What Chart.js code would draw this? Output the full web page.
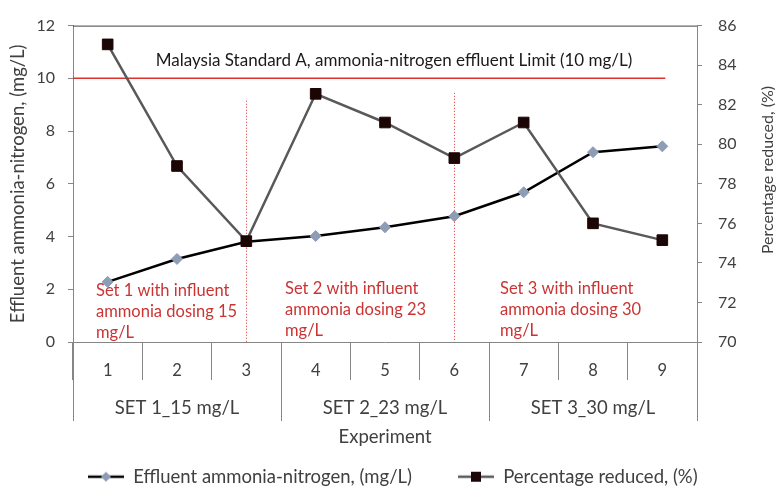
<!DOCTYPE html>
<html>
<head>
<meta charset="utf-8">
<script src="https://cdn.jsdelivr.net/npm/chart.js@4/dist/chart.umd.min.js"></script>
<style>
	html, body { margin: 0; padding: 0; background: #fff; }
</style>
</head>
<body>
<canvas id="chart" width="777" height="493"></canvas>
<script>
const experiments = ['1', '2', '3', '4', '5', '6', '7', '8', '9']
const setLabels = ['SET 1_15 mg/L', 'SET 2_23 mg/L', 'SET 3_30 mg/L']
const setSizes = [3, 3, 3]
const effluent = [2.28, 3.15, 3.8, 4.02, 4.35, 4.77, 5.68, 7.2, 7.42]
const percentReduced = [85.05, 78.9, 75.1, 82.55, 81.1, 79.3, 81.1, 76.0, 75.15]
const effluentLimit = 10
const limitText = 'Malaysia Standard A, ammonia-nitrogen effluent Limit (10 mg/L)'
const setNotes = [
	['Set 1 with influent', 'ammonia dosing 15', 'mg/L'],
	['Set 2 with influent', 'ammonia dosing 23', 'mg/L'],
	['Set 3 with influent', 'ammonia dosing 30', 'mg/L'],
]

const axisGrey = '#868686'
const textGrey = '#404040'
const red = '#e0302c'

Chart.defaults.font.family = 'Lato'

// legend symbol: line with the marker in the middle, right part of the box
function legendIcon(lineColor, marker) {
	const c = document.createElement('canvas')
	c.width = 72
	c.height = 16
	const g = c.getContext('2d')
	g.strokeStyle = lineColor
	g.lineWidth = 2.5
	g.beginPath()
	g.moveTo(36, 8)
	g.lineTo(72, 8)
	g.stroke()
	marker(g, 54, 8)
	return c
}
const icons = [
	legendIcon('#000', (g, x, y) => {
		g.fillStyle = '#8d9db6'
		g.beginPath()
		g.moveTo(x, y - 5); g.lineTo(x + 5, y); g.lineTo(x, y + 5); g.lineTo(x - 5, y)
		g.closePath()
		g.fill()
	}),
	legendIcon('#595959', (g, x, y) => {
		g.fillStyle = '#1c0505'
		g.fillRect(x - 5, y - 5, 10, 10)
	}),
]

const overlays = {
	id: 'overlays',
	afterLayout(chart) {
		const lg = chart.legend
		lg.left = 42
		lg.top += 3
		lg.bottom += 3
	},
	beforeDatasetsDraw(chart) {
		const { ctx, chartArea: a, scales: { x, y } } = chart
		ctx.save()
		// limit line
		const yl = y.getPixelForValue(effluentLimit)
		ctx.strokeStyle = red
		ctx.lineWidth = 1.5
		ctx.beginPath()
		ctx.moveTo(a.left, yl)
		ctx.lineTo(x.getPixelForValue(experiments.length - 1) + 3, yl)
		ctx.stroke()

		ctx.fillStyle = '#1a1a1a'
		ctx.font = '17px Lato'
		ctx.textAlign = 'center'
		ctx.textBaseline = 'middle'
		ctx.fillText(limitText, (a.left + a.right) / 2 + 9, yl - 18)

		// dotted dividers at the end of set 1 and set 2
		const tops = [9.15, 9.45]
		ctx.strokeStyle = red
		ctx.lineWidth = 1
		ctx.setLineDash([1, 2])
		let idx = -1
		setSizes.slice(0, -1).forEach((n, i) => {
			idx += n
			const px = Math.round(x.getPixelForValue(idx)) + 0.5
			ctx.beginPath()
			ctx.moveTo(px, y.getPixelForValue(tops[i]))
			ctx.lineTo(px, a.bottom)
			ctx.stroke()
		})
		ctx.setLineDash([])

		// set notes
		const noteX = [96, 285, 500]
		const noteY = [291, 289, 289]
		ctx.fillStyle = '#cc3333'
		ctx.font = '16.5px Lato'
		ctx.textAlign = 'left'
		setNotes.forEach((lines, i) => {
			lines.forEach((t, j) => ctx.fillText(t, noteX[i], noteY[i] + j * 21))
		})
		ctx.restore()
	},
	afterDraw(chart) {
		const { ctx, chartArea: a, scales: { x } } = chart
		ctx.save()
		// top border of plot
		ctx.strokeStyle = textGrey
		ctx.lineWidth = 1
		ctx.beginPath()
		ctx.moveTo(a.left, a.top + 0.5)
		ctx.lineTo(a.right, a.top + 0.5)
		ctx.stroke()

		// group separators and labels
		const step = x.getPixelForValue(1) - x.getPixelForValue(0)
		const lineBottom = 421
		ctx.strokeStyle = axisGrey
		ctx.fillStyle = textGrey
		ctx.font = '18.5px Lato'
		ctx.textAlign = 'center'
		ctx.textBaseline = 'middle'
		let start = 0
		setSizes.forEach((n, i) => {
			const x0 = x.getPixelForValue(start) - step / 2
			const x1 = x.getPixelForValue(start + n - 1) + step / 2
			ctx.beginPath()
			ctx.moveTo(Math.round(x0) + 0.5, a.bottom)
			ctx.lineTo(Math.round(x0) + 0.5, lineBottom)
			ctx.moveTo(Math.round(x1) + 0.5, a.bottom)
			ctx.lineTo(Math.round(x1) + 0.5, lineBottom)
			ctx.stroke()
			ctx.fillText(setLabels[i], (x0 + x1) / 2, 408)
			start += n
		})

		// right axis title, reads bottom to top
		ctx.font = '16px Lato'
		ctx.translate(768, 170)
		ctx.rotate(-Math.PI / 2)
		ctx.fillText('Percentage reduced, (%)', 0, 0)
		ctx.restore()
	}
}

new Chart(document.getElementById('chart'), {
	type: 'line',
	data: {
		labels: experiments,
		datasets: [
			{
				label: 'Effluent ammonia-nitrogen, (mg/L)',
				data: effluent,
				yAxisID: 'y',
				borderColor: '#000',
				borderWidth: 2.5,
				tension: 0,
				pointStyle: 'rectRot',
				pointRadius: 5.5,
				pointBackgroundColor: '#8d9db6',
				pointBorderColor: '#8d9db6',
				pointBorderWidth: 1,
				order: 2,
			},
			{
				label: 'Percentage reduced, (%)',
				data: percentReduced,
				yAxisID: 'y1',
				borderColor: '#595959',
				borderWidth: 2.5,
				tension: 0,
				pointStyle: 'rect',
				pointRadius: 7.5,
				pointBackgroundColor: '#1c0505',
				pointBorderColor: '#1c0505',
				pointBorderWidth: 1,
				order: 1,
			},
		],
	},
	plugins: [overlays],
	options: {
		responsive: false,
		animation: false,
		devicePixelRatio: 1,
		layout: {
			padding: { top: 21, left: 0, right: 0, bottom: 0 }
		},
		scales: {
			x: {
				offset: true,
				grid: { offset: true, drawOnChartArea: false, tickLength: 38, color: axisGrey },
				border: { color: axisGrey },
				ticks: { font: { size: 16.5 }, color: textGrey, padding: -19, maxRotation: 0, autoSkip: false },
				title: { display: true, text: 'Experiment', font: { size: 18.5 }, color: textGrey, padding: { top: 0, bottom: 6 } },
				afterFit: s => { s.height = 493 - 342 - s.chart.legend.height },
			},
			y: {
				position: 'left',
				min: 0,
				max: 12,
				ticks: { stepSize: 2, font: { size: 16 }, color: textGrey, padding: 13 },
				grid: { drawOnChartArea: false, tickLength: 5, color: axisGrey },
				border: { color: axisGrey },
				title: { display: true, text: 'Effluent ammonia-nitrogen, (mg/L)', font: { size: 18.5 }, color: textGrey, padding: { top: 7, bottom: 0 } },
				afterFit: s => { s.width = 73 },
			},
			y1: {
				position: 'right',
				min: 70,
				max: 86,
				ticks: { stepSize: 2, font: { size: 16 }, color: textGrey, padding: 16 },
				grid: { drawOnChartArea: false, tickLength: 5, color: axisGrey },
				border: { color: axisGrey },
				afterFit: s => { s.width = 80 },
			},
		},
		plugins: {
			tooltip: { enabled: false },
			legend: {
				position: 'bottom',
				align: 'start',
				labels: {
					font: { size: 18.5 },
					color: textGrey,
					padding: 10,
					usePointStyle: true,
					pointStyleWidth: 72,
					sort: (a, b) => a.datasetIndex - b.datasetIndex,
					generateLabels: chart => Chart.defaults.plugins.legend.labels.generateLabels(chart)
						.map(l => ({ ...l, pointStyle: icons[l.datasetIndex] })),
				}
			}
		}
	}
})
</script>
</body>
</html>
